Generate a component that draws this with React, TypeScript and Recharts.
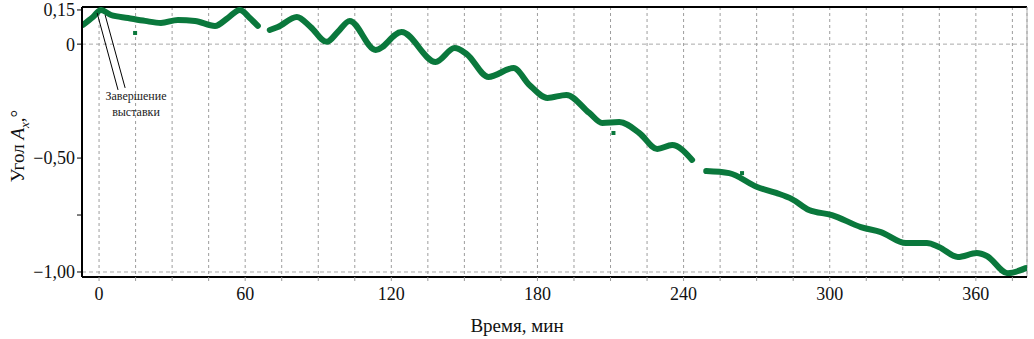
import React from 'react';
import {
  ComposedChart,
  Line,
  Scatter,
  XAxis,
  YAxis,
  CartesianGrid,
  ReferenceLine,
} from 'recharts';

// time, min (null angle = gap in the record)
const TIME_MIN = [
  -6.6, -2.5, 0.8, 4.9, 11.9, 18.9, 25.4, 32.4, 39.4, 47.6, 52.9, 57.8, 61.9, 65.2,
  67.5,
  70.1, 73.4, 81.2, 86.9, 93.5, 98.0, 102.9, 113.6, 124.2, 138.2, 146.0, 150.9, 159.9,
  170.2, 176.7, 184.1, 191.9, 201.3, 206.6, 213.6, 221.8, 229.2, 235.3, 243.5,
  246.4,
  249.3, 258.7, 270.2, 278.0, 284.5, 291.5, 300.9, 312.8, 321.0, 331.3, 339.9, 344.8,
  352.6, 360.4, 364.5, 373.1, 380.5,
];

// angle A_x, degrees
const ANGLE_DEG = [
  0.084, 0.119, 0.15, 0.128, 0.115, 0.102, 0.093, 0.106, 0.102, 0.08, 0.115, 0.15, 0.115, 0.08,
  null,
  0.062, 0.075, 0.119, 0.075, 0.01, 0.053, 0.102, -0.026, 0.053, -0.078, -0.017, -0.043, -0.144,
  -0.105, -0.179, -0.236, -0.223, -0.302, -0.346, -0.342, -0.39, -0.46, -0.443, -0.508,
  null,
  -0.557, -0.566, -0.627, -0.653, -0.68, -0.728, -0.75, -0.803, -0.825, -0.873, -0.873, -0.89,
  -0.934, -0.917, -0.93, -1.005, -0.983,
];

// single outlying samples
const STRAY_TIME = [14.8, 211.2, 264.0];
const STRAY_ANGLE = [0.049, -0.39, -0.566];

const X_TICKS = Array.from({ length: 26 }, (_, i) => i * 15);
const Y_TICKS = [0.15, 0, -0.5, -0.75, -1.0];
const Y_TICK_LABELS = ['0,15', '0', '−0,50', '', '−1,00'];

const lineData = TIME_MIN.map((t, i) => ({ t, v: ANGLE_DEG[i] }));
const strayData = STRAY_TIME.map((t, i) => ({ t, v: STRAY_ANGLE[i] }));

const serif = '"Liberation Serif", "DejaVu Serif", serif';
const green = '#0a783c';

const StrayDot = (props: any) => (
  <rect x={props.cx - 2} y={props.cy - 2} width={4} height={4} fill={green} />
);

export default function App() {
  return (
    <div style={{ position: 'fixed', left: 0, top: 0, width: 1034, height: 339, background: '#fff', fontFamily: serif }}>
      <ComposedChart width={1034} height={339} margin={{ top: 7, right: 7, left: 12, bottom: 22 }}>
        <CartesianGrid vertical horizontal={false} stroke="#9d9d9d" strokeDasharray="3 3" />
        <XAxis
          dataKey="t"
          type="number"
          domain={[-7, 381]}
          ticks={X_TICKS}
          interval={0}
          allowDataOverflow
          height={40}
          tickSize={4}
          tickMargin={6}
          tickFormatter={(v: number) => (v % 60 === 0 ? String(v) : '')}
          tick={{ fontSize: 18, fill: '#111', fontFamily: serif }}
          axisLine={{ stroke: '#000', strokeWidth: 2 }}
          tickLine={{ stroke: '#999' }}
        />
        <YAxis
          type="number"
          domain={[-1.022, 0.163]}
          ticks={Y_TICKS}
          interval={0}
          allowDataOverflow
          width={70}
          tickSize={5}
          tickMargin={2}
          tickFormatter={(v: number) => Y_TICK_LABELS[Y_TICKS.indexOf(v)] ?? ''}
          tick={{ fontSize: 18, fill: '#111', fontFamily: serif }}
          axisLine={{ stroke: '#000', strokeWidth: 2 }}
          tickLine={{ stroke: '#000' }}
        />
        <ReferenceLine y={0.163} stroke="#000" strokeWidth={2} />
        <ReferenceLine x={381} stroke="#aaa" strokeWidth={1} />
        <ReferenceLine y={0} stroke="#a9a9a9" strokeDasharray="4 3" />
        <ReferenceLine y={-1.0} stroke="#a9a9a9" strokeDasharray="4 3" />
        <Line
          data={lineData}
          dataKey="v"
          type="monotone"
          stroke={green}
          strokeWidth={6}
          strokeLinejoin="round"
          strokeLinecap="round"
          dot={false}
          connectNulls={false}
          isAnimationActive={false}
        />
        <Scatter data={strayData} dataKey="v" shape={StrayDot} isAnimationActive={false} />
        <ReferenceLine segment={[{ x: -0.8, y: 0.137 }, { x: 7.8, y: -0.201 }]} stroke="#000" strokeWidth={1} />
        <ReferenceLine segment={[{ x: 2.5, y: 0.128 }, { x: 10.7, y: -0.192 }]} stroke="#000" strokeWidth={1} />
      </ComposedChart>

      <div style={{ position: 'absolute', left: 98, top: 88, width: 76, textAlign: 'center', fontSize: 12, lineHeight: '16px', color: '#222' }}>
        Завершение
        <br />
        выставки
      </div>

      <div
        style={{
          position: 'absolute',
          left: 18 - 100,
          top: 146 - 12,
          width: 200,
          height: 24,
          lineHeight: '24px',
          textAlign: 'center',
          fontSize: 19,
          color: '#111',
          transform: 'rotate(-90deg)',
        }}
      >
        Угол <i>A</i>
        <sub style={{ fontSize: 13 }}>
          <i>x</i>
        </sub>
        ,°
      </div>

      <div style={{ position: 'absolute', left: 0, top: 314, width: 1034, textAlign: 'center', fontSize: 19, lineHeight: '24px', color: '#111' }}>
        Время, мин
      </div>
    </div>
  );
}
